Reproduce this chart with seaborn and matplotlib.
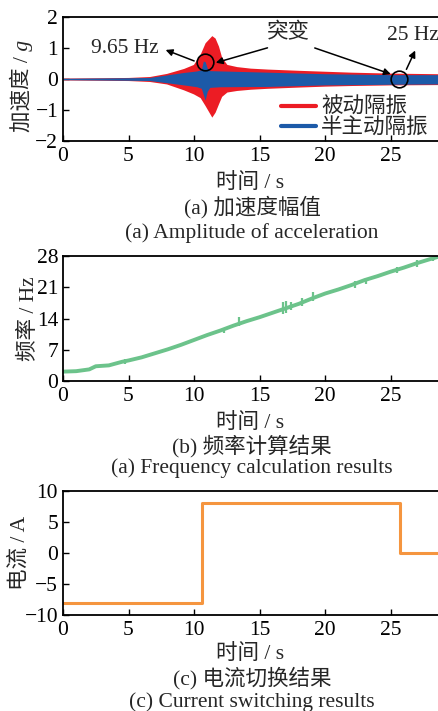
import numpy as np
import pandas as pd
import matplotlib
matplotlib.use('Agg')
import matplotlib.pyplot as plt
import seaborn as sns
from matplotlib.lines import Line2D

# ========== DATA ==========
# (a) acceleration envelope, passive isolation (red)
pas_t = [0, 3, 5, 6.6, 7.9, 9.2, 9.95, 10.46, 10.84, 11.35, 11.6, 11.86, 12.1, 12.5, 13.25, 14.3, 15.6, 18, 20, 22, 25, 28.6]
pas_hi = [0.03, 0.04, 0.05, 0.08, 0.18, 0.34, 0.47, 0.8, 1.17, 1.4, 1.32, 1.06, 0.7, 0.47, 0.4, 0.35, 0.32, 0.28, 0.25, 0.22, 0.19, 0.17]
pas_lo = [-0.03, -0.04, -0.05, -0.08, -0.16, -0.35, -0.48, -0.6, -0.86, -1.23, -1.07, -0.8, -0.56, -0.42, -0.37, -0.33, -0.3, -0.26, -0.23, -0.21, -0.19, -0.18]
# (a) acceleration envelope, semi-active isolation (blue)
semi_t = [0, 5, 6.6, 7.9, 9.2, 10.2, 10.55, 10.7, 10.84, 11.0, 11.2, 12, 15.6, 20, 25, 28.6]
semi_hi = [0.02, 0.04, 0.05, 0.13, 0.21, 0.26, 0.3, 0.58, 0.56, 0.35, 0.27, 0.26, 0.22, 0.17, 0.14, 0.14]
semi_lo = [-0.02, -0.04, -0.05, -0.12, -0.19, -0.25, -0.3, -0.5, -0.68, -0.4, -0.27, -0.25, -0.24, -0.19, -0.17, -0.16]

# (b) computed frequency
freq_t = [0, 1, 2, 2.5, 3.5, 4.5, 5, 6, 7, 8, 9, 10, 11, 12, 13, 14, 15, 16, 17, 18, 19, 20,
          21, 22, 23, 24, 25, 26, 27, 28, 28.6]
freq_hz = [2.1, 2.2, 2.6, 3.3, 3.5, 4.3, 4.6, 5.3, 6.2, 7.1, 8.1, 9.2, 10.3, 11.3, 12.4, 13.4, 14.3,
           15.3, 16.3, 17.3, 18.5, 19.6, 20.5, 21.5, 22.6, 23.5, 24.5, 25.4, 26.4, 27.3, 27.8]
# small glitches in the frequency estimate
glitch_t = [4.7, 12.3, 13.4, 16.8, 17.0, 17.4, 18.2, 19.1, 22.3, 23.1, 25.5, 27.0, 28.2]
glitch_lo = [3.9, 10.8, 12.3, 15.1, 15.2, 16.0, 16.8, 18.0, 20.8, 21.8, 24.3, 25.6, 26.8]
glitch_hi = [5.0, 11.9, 14.3, 17.6, 17.9, 17.8, 18.6, 19.9, 22.3, 23.0, 25.5, 27.2, 28.2]

# (c) current switching
cur_t = [0, 10.6, 25.7, 28.6]
cur_a = [-8, 8, 0, 0]

XMAX = 28.6
x_ticks = [0, 5, 10, 15, 20, 25]

# ========== STYLE ==========
sns.set_theme(style='ticks')
plt.rcParams['font.family'] = ['Liberation Serif', 'Noto Sans CJK SC']
plt.rcParams['axes.unicode_minus'] = True
FS = 15.5

fig = plt.figure(figsize=(4.38, 7.11), dpi=100)
left, width = 63 / 438, 1 - 63 / 438
ax_a = fig.add_axes([left, 1 - 141 / 711, width, 124 / 711])
ax_b = fig.add_axes([left, 1 - 381 / 711, width, 125 / 711])
ax_c = fig.add_axes([left, 1 - 615 / 711, width, 124 / 711])


def style_axis(ax, xpad=5):
    ax.set_xlim(0, XMAX)
    ax.set_xticks(x_ticks)
    for s in ['left', 'bottom', 'top']:
        ax.spines[s].set_color('black')
        ax.spines[s].set_linewidth(1.3)
    ax.spines['right'].set_visible(False)
    ax.tick_params(direction='in', length=4, width=1, labelsize=FS, colors='black')
    ax.tick_params(axis='x', pad=4.5)
    ax.tick_params(axis='y', pad=3.5)
    ax.set_xlabel('时间 / s', fontsize=FS, labelpad=xpad)
    ax.grid(False)


# ----- (a) acceleration -----
ax_a.fill_between(pas_t, pas_lo, pas_hi, color='#ec1c24', lw=0)
ax_a.fill_between(semi_t, semi_lo, semi_hi, color='#1c5aa8', lw=0)
ax_a.axhline(0, color='#1c5aa8', lw=0.8)
ax_a.set_ylim(-2, 2)
ax_a.set_yticks([-2, -1, 0, 1, 2])
style_axis(ax_a)

# y label "加速度 / g" with an italic g
yl = ax_a.text(-0.08, 0.073, '加速度 /', rotation=90, rotation_mode='anchor',
               ha='left', va='bottom', fontsize=FS, transform=ax_a.transAxes)
ax_a.annotate(' g', xy=(1, 1), xycoords=yl, rotation=90, rotation_mode='anchor',
              ha='left', va='bottom', fontsize=FS, style='italic',
              family=['Liberation Serif'], annotation_clip=False)

ax_a.plot([10.84, 25.6], [0.55, 0.0], 'o', ms=12, mfc='none', mec='black', mew=1.2, zorder=5)

arr = dict(arrowstyle='-|>', color='black', lw=1.1, mutation_scale=10)
ax_a.annotate('', xy=(7.63, 0.97), xytext=(10.2, 0.55), arrowprops=arr)
ax_a.text(4.73, 0.98, '9.65 Hz', fontsize=FS, ha='center', va='center')
ax_a.annotate('', xy=(11.45, 0.5), xytext=(15.8, 1.03), arrowprops=arr)
ax_a.annotate('', xy=(25.2, 0.13), xytext=(19.0, 1.03), arrowprops=arr)
ax_a.text(17.2, 1.47, '突变', fontsize=FS, ha='center', va='center')
ax_a.annotate('', xy=(26.95, 1.0), xytext=(26.1, 0.23), arrowprops=arr)
ax_a.text(24.7, 1.4, '25 Hz', fontsize=FS, ha='left', va='center')

handles = [Line2D([], [], color='#ec1c24', lw=3), Line2D([], [], color='#1c5aa8', lw=3)]
ax_a.legend(handles, ['被动隔振', '半主动隔振'], loc='lower right', frameon=False,
            fontsize=FS, handlelength=1.63, handletextpad=0.23, labelspacing=0.02,
            borderpad=0.1, bbox_to_anchor=(1.01, -0.085))

# ----- (b) frequency -----
df_f = pd.DataFrame({'t': freq_t, 'f': freq_hz})
sns.lineplot(data=df_f, x='t', y='f', ax=ax_b, color='#6cc38b', lw=2.8)
ax_b.vlines(glitch_t, glitch_lo, glitch_hi, color='#6cc38b', lw=1.6)
ax_b.set_ylim(0, 28)
ax_b.set_yticks([0, 7, 14, 21, 28])
style_axis(ax_b)
ax_b.set_ylabel('频率 / Hz', fontsize=FS)
ax_b.yaxis.set_label_coords(-0.065, 0.5)

# ----- (c) current -----
df_c = pd.DataFrame({'t': cur_t, 'i': cur_a})
sns.lineplot(data=df_c, x='t', y='i', ax=ax_c, color='#f5953f', lw=2.2, drawstyle='steps-post')
ax_c.set_ylim(-10, 10)
ax_c.set_yticks([-10, -5, 0, 5, 10])
style_axis(ax_c, xpad=2.5)
ax_c.set_ylabel('电流 / A', fontsize=FS)
ax_c.yaxis.set_label_coords(-0.088, 0.5)

# captions
caps = [('(a) 加速度幅值', 207), ('(a) Amplitude of acceleration', 233),
        ('(b) 频率计算结果', 446), ('(a) Frequency calculation results', 468),
        ('(c) 电流切换结果', 678), ('(c) Current switching results', 702)]
for txt, ypx in caps:
    fig.text(252 / 438, 1 - ypx / 711, txt, fontsize=FS, ha='center', va='center')

fig.savefig('out.png', dpi=100)
